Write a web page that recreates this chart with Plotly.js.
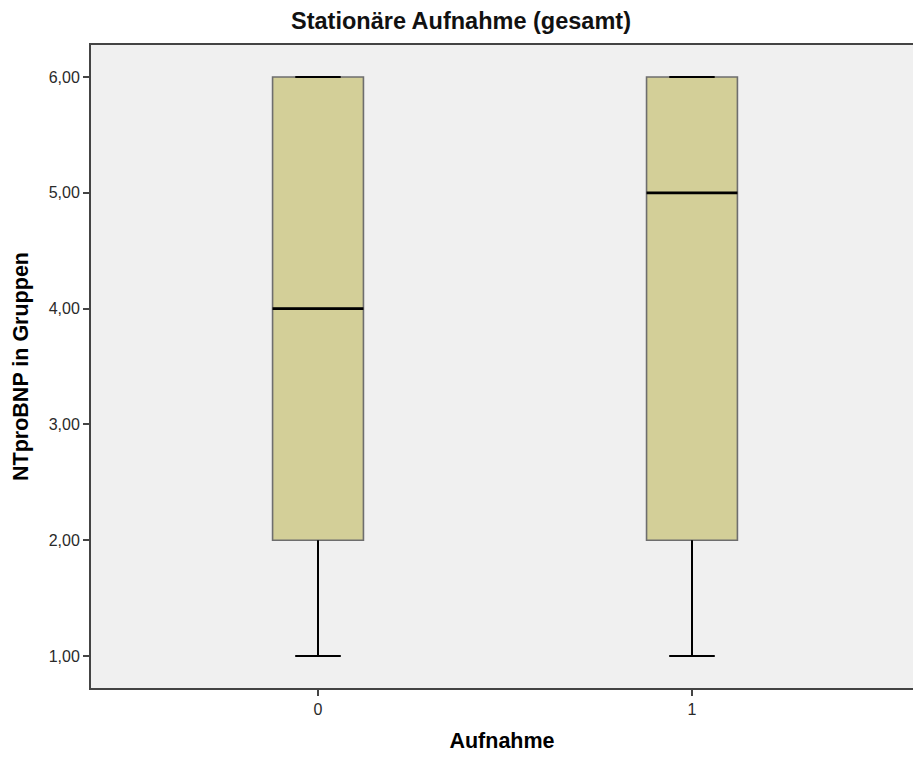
<!DOCTYPE html>
<html>
<head>
<meta charset="utf-8">
<script src="https://cdn.plot.ly/plotly-3.0.1.min.js"></script>
<style>html,body{margin:0;padding:0;background:#fff;}#chart{width:913px;height:760px;}</style>
</head>
<body>
<div id="chart"></div>
<script>
// Data
const categories = ['0', '1'];
const positions = [0, 1];
const lowerWhisker = [1, 1];
const q1 = [2, 2];
const median = [4, 5];
const q3 = [6, 6];
const upperWhisker = [6, 6];
const yTicks = [1, 2, 3, 4, 5, 6];

const boxWidth = 0.243;
const capHalf = boxWidth / 4;

// median + whisker overlay built from the data arrays
const medX = [], medY = [], whX = [], whY = [];
positions.forEach((p, i) => {
  medX.push(p - boxWidth / 2, p + boxWidth / 2, null);
  medY.push(median[i], median[i], null);
  whX.push(p, p, null, p - capHalf, p + capHalf, null, p, p, null, p - capHalf, p + capHalf, null);
  whY.push(q1[i], lowerWhisker[i], null, lowerWhisker[i], lowerWhisker[i], null,
           q3[i], upperWhisker[i], null, upperWhisker[i], upperWhisker[i], null);
});

const traces = [
  {
    type: 'box',
    x: positions,
    q1: q1, median: median, q3: q3,
    lowerfence: lowerWhisker, upperfence: upperWhisker,
    width: boxWidth,
    whiskerwidth: 0.5,
    fillcolor: '#d3cf98',
    line: {color: '#6e6e6e', width: 1.6},
    boxpoints: false,
    hoverinfo: 'skip',
    showlegend: false
  },
  {
    type: 'scatter', mode: 'lines',
    x: whX, y: whY,
    line: {color: '#000', width: 2},
    hoverinfo: 'skip', showlegend: false
  },
  {
    type: 'scatter', mode: 'lines',
    x: medX, y: medY,
    line: {color: '#000', width: 2.8},
    hoverinfo: 'skip', showlegend: false
  }
];

const layout = {
  width: 913, height: 760,
  margin: {l: 91, r: 0, t: 45, b: 72},
  paper_bgcolor: '#ffffff',
  plot_bgcolor: '#f0f0f0',
  separators: ',.',
  font: {family: 'Liberation Sans, Arial, sans-serif', color: '#000'},
  title: {
    text: 'Stationäre Aufnahme (gesamt)',
    font: {size: 23.5, family: 'Liberation Sans, Arial, sans-serif', color: '#111', weight: 'bold'},
    x: 461 / 913, xref: 'container', xanchor: 'center',
    y: 1 - 21 / 760, yref: 'container', yanchor: 'middle'
  },
  xaxis: {
    range: [-0.607, 1.591],
    tickvals: positions, ticktext: categories,
    ticks: 'outside', ticklen: 6, tickwidth: 2, tickcolor: '#444',
    showline: true, linecolor: '#444', linewidth: 2, mirror: true,
    showgrid: false, zeroline: false,
    tickfont: {size: 16, color: '#2a2a2a'},
    title: {text: 'Aufnahme', font: {size: 21.5, weight: 'bold', color: '#000'}, standoff: 16}
  },
  yaxis: {
    range: [0.724, 6.276],
    tickvals: yTicks, tickformat: '.2f',
    ticks: 'outside', ticklen: 6, tickwidth: 2, tickcolor: '#444',
    showline: true, linecolor: '#444', linewidth: 2,
    showgrid: false, zeroline: false,
    tickfont: {size: 16, color: '#2a2a2a'},
    title: {text: 'NTproBNP in Gruppen', font: {size: 21.5, weight: 'bold', color: '#000'}, standoff: 14}
  }
};

Plotly.newPlot('chart', traces, layout, {displayModeBar: false, staticPlot: true});
</script>
</body>
</html>
